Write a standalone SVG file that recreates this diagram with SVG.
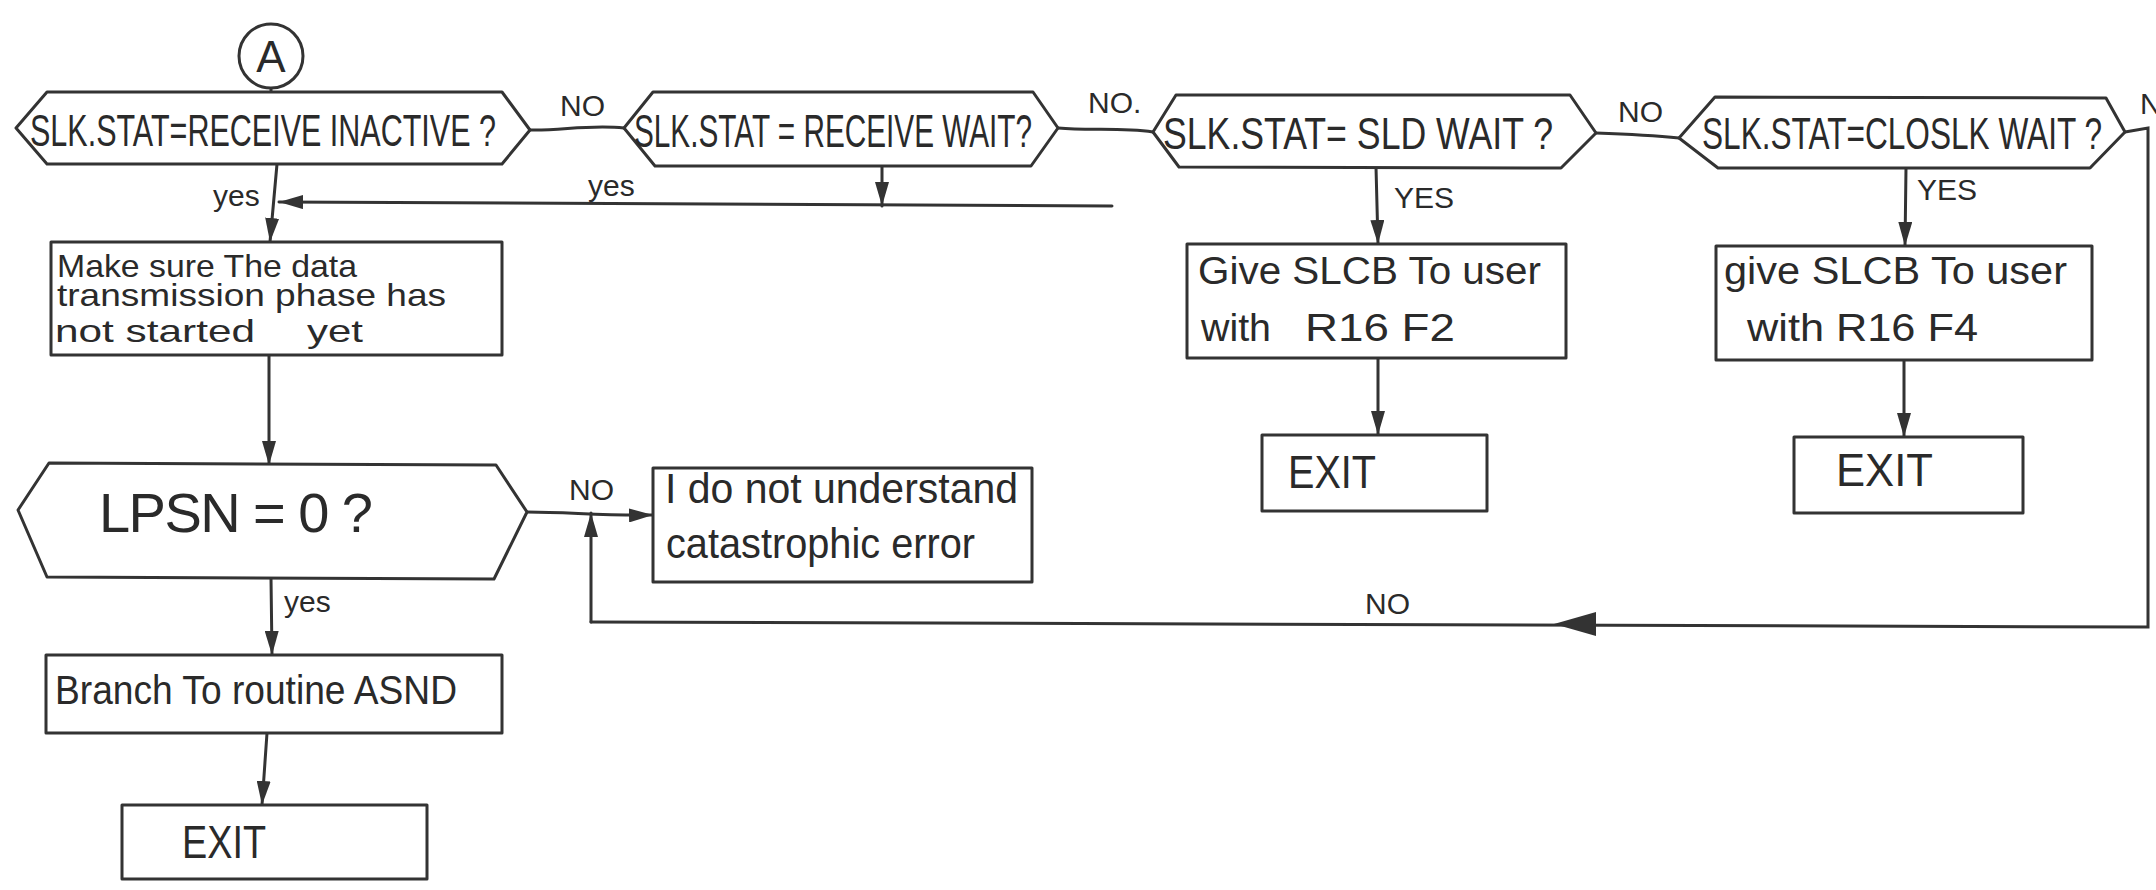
<svg xmlns="http://www.w3.org/2000/svg" width="2156" height="890" viewBox="0 0 2156 890">
  <style>
    .shape { fill: #ffffff; stroke: #333333; stroke-width: 3; stroke-linejoin: round; }
    .wire { fill: none; stroke: #333333; stroke-width: 3; stroke-linecap: round; }
    .arrow { marker-end: url(#head); }
    .t { font-family: "Liberation Sans", Arial, sans-serif; fill: #2a2a2a; }
    .q { font-size: 44px; }
    .body { font-size: 32px; }
    .lab { font-size: 30px; }
    .exit { font-size: 46px; }
  </style>
  <defs>
    <marker id="head" markerUnits="userSpaceOnUse" markerWidth="24" markerHeight="14" refX="24" refY="7" orient="auto">
      <path d="M0,0 L24,7 L0,14 Z" fill="#333333"/>
    </marker>
  </defs>
  <rect width="2156" height="890" fill="#ffffff"/>

  <!-- connectors -->
  <g id="connectors">
    <path class="wire" d="M271,88 L271,92"/>
    <path class="wire" d="M530,130 C560,131 590,124 624,128"/>
    <path class="wire" d="M1058,128 C1090,131 1120,127 1153,132"/>
    <path class="wire" d="M1596,133 C1625,134 1650,135 1679,138"/>
    <path class="wire" d="M2125,132 L2148,128 L2148,627 L591,622"/>
    <polygon points="1554,624 1596,612 1596,636" fill="#333333"/>
    <path class="wire arrow" d="M591,622 L591,513"/>
    <path class="wire arrow" d="M277,164 L270,242"/>
    <path class="wire arrow" d="M1112,206 L279,202"/>
    <path class="wire arrow" d="M882,166 L882,206"/>
    <path class="wire arrow" d="M269,355 L269,465"/>
    <path class="wire arrow" d="M527,512 C570,512 600,516 653,515"/>
    <path class="wire arrow" d="M271,578 L272,655"/>
    <path class="wire arrow" d="M267,733 L262,805"/>
    <path class="wire arrow" d="M1376,167 L1378,244"/>
    <path class="wire arrow" d="M1378,358 L1378,435"/>
    <path class="wire arrow" d="M1906,168 L1905,246"/>
    <path class="wire arrow" d="M1904,360 L1904,437"/>

    <text class="t lab" x="560" y="116">NO</text>
    <text class="t lab" x="1088" y="113">NO.</text>
    <text class="t lab" x="1618" y="122">NO</text>
    <text class="t lab" x="2140" y="114">N</text>
    <text class="t lab" x="213" y="206">yes</text>
    <text class="t lab" x="588" y="196">yes</text>
    <text class="t lab" x="1394" y="208">YES</text>
    <text class="t lab" x="1917" y="200">YES</text>
    <text class="t lab" x="569" y="500">NO</text>
    <text class="t lab" x="284" y="612">yes</text>
    <text class="t lab" x="1365" y="614">NO</text>
  </g>

  <!-- entry connector A -->
  <g id="entry-a">
    <circle class="shape" cx="271" cy="56" r="32"/>
    <text class="t" x="271" y="72" font-size="44" text-anchor="middle">A</text>
  </g>

  <g id="q-receive-inactive">
    <polygon class="shape" points="16,128 47,92 502,92 530,130 502,164 47,164"/>
    <text class="t q" x="30" y="146" textLength="466" lengthAdjust="spacingAndGlyphs">SLK.STAT=RECEIVE INACTIVE ?</text>
  </g>

  <g id="q-receive-wait">
    <polygon class="shape" points="624,128 653,92 1033,92 1058,128 1031,166 655,166"/>
    <text class="t" x="634" y="147" font-size="46" textLength="398" lengthAdjust="spacingAndGlyphs">SLK.STAT = RECEIVE WAIT?</text>
  </g>

  <g id="q-sld-wait">
    <polygon class="shape" points="1153,132 1176,95 1570,95 1596,133 1561,168 1179,167"/>
    <text class="t q" x="1163" y="149" textLength="390" lengthAdjust="spacingAndGlyphs">SLK.STAT= SLD  WAIT ?</text>
  </g>

  <g id="q-closlk-wait">
    <polygon class="shape" points="1679,138 1715,97 2106,98 2125,132 2090,168 1718,168"/>
    <text class="t q" x="1702" y="149" textLength="400" lengthAdjust="spacingAndGlyphs">SLK.STAT=CLOSLK WAIT ?</text>
  </g>

  <g id="check-phase">
    <rect class="shape" x="51" y="242" width="451" height="113"/>
    <text class="t body" x="57" y="277" textLength="300" lengthAdjust="spacingAndGlyphs">Make sure The data</text>
    <text class="t body" x="57" y="306" textLength="389" lengthAdjust="spacingAndGlyphs">transmission phase has</text>
    <text class="t body" x="55" y="342" textLength="200" lengthAdjust="spacingAndGlyphs">not started</text>
    <text class="t body" x="307" y="342" textLength="56" lengthAdjust="spacingAndGlyphs">yet</text>
  </g>

  <g id="q-lpsn">
    <polygon class="shape" points="18,510 49,463 496,465 527,512 494,579 47,577"/>
    <text class="t" x="99" y="532" font-size="56" textLength="274" lengthAdjust="spacing">LPSN = 0 ?</text>
  </g>

  <g id="error-box">
    <rect class="shape" x="653" y="468" width="379" height="114"/>
    <text class="t" x="665" y="503" font-size="42" textLength="353" lengthAdjust="spacingAndGlyphs">I do not understand</text>
    <text class="t" x="666" y="558" font-size="42" textLength="309" lengthAdjust="spacingAndGlyphs">catastrophic error</text>
  </g>

  <g id="branch-asnd">
    <rect class="shape" x="46" y="655" width="456" height="78"/>
    <text class="t" x="55" y="704" font-size="40" textLength="402" lengthAdjust="spacingAndGlyphs">Branch To routine ASND</text>
  </g>

  <g id="exit-1">
    <rect class="shape" x="122" y="805" width="305" height="74"/>
    <text class="t exit" x="182" y="858" textLength="84" lengthAdjust="spacingAndGlyphs">EXIT</text>
  </g>

  <g id="give-slcb-f2">
    <rect class="shape" x="1187" y="244" width="379" height="114"/>
    <text class="t" x="1198" y="284" font-size="38" textLength="343" lengthAdjust="spacingAndGlyphs">Give SLCB To user</text>
    <text class="t" x="1201" y="341" font-size="38" textLength="70" lengthAdjust="spacingAndGlyphs">with</text>
    <text class="t" x="1305" y="341" font-size="38" textLength="150" lengthAdjust="spacingAndGlyphs">R16 F2</text>
  </g>

  <g id="exit-2">
    <rect class="shape" x="1262" y="435" width="225" height="76"/>
    <text class="t exit" x="1288" y="488" textLength="88" lengthAdjust="spacingAndGlyphs">EXIT</text>
  </g>

  <g id="give-slcb-f4">
    <rect class="shape" x="1716" y="246" width="376" height="114"/>
    <text class="t" x="1724" y="284" font-size="38" textLength="343" lengthAdjust="spacingAndGlyphs">give SLCB To user</text>
    <text class="t" x="1747" y="341" font-size="38" textLength="231" lengthAdjust="spacingAndGlyphs">with R16 F4</text>
  </g>

  <g id="exit-3">
    <rect class="shape" x="1794" y="437" width="229" height="76"/>
    <text class="t exit" x="1836" y="486" textLength="97" lengthAdjust="spacingAndGlyphs">EXIT</text>
  </g>
</svg>
